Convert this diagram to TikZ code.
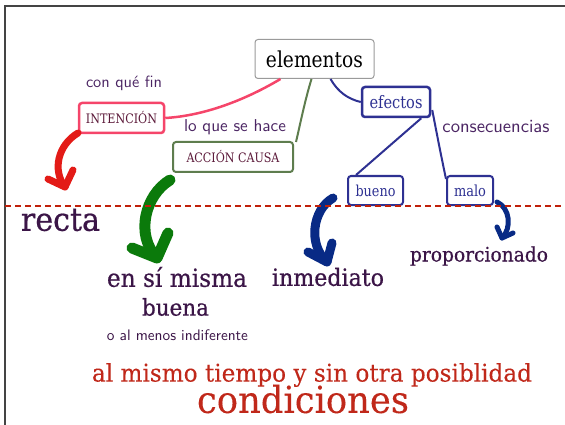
\documentclass[tikz,border=0pt]{standalone}
\usepackage{fontspec}
\usepackage{graphicx}
\newfontfamily\slab{DejaVu Serif}[FakeStretch=0.93, FakeBold=0.6]
\newfontfamily\slabbox{DejaVu Serif}[FakeStretch=0.85]
\newfontfamily\slablight{DejaVu Serif}[FakeStretch=0.95, FakeBold=0.2]
\usetikzlibrary{calc}
\definecolor{pinkc}{HTML}{F5456A}
\definecolor{greenc}{HTML}{5E7D4E}
\definecolor{bluec}{HTML}{2E3192}
\definecolor{arrred}{HTML}{E31B17}
\definecolor{arrgreen}{HTML}{0B7A0B}
\definecolor{arrnavy}{HTML}{082A85}
\definecolor{dashred}{HTML}{C0200A}
\definecolor{txtpurple}{HTML}{3B1547}
\definecolor{handpurple}{HTML}{4B2563}
\definecolor{boxtxt}{HTML}{5C1A3A}
\definecolor{redtxt}{HTML}{C0281A}
\definecolor{grayc}{HTML}{9A9A9A}
\definecolor{framec}{HTML}{444444}
\newcommand\fw[2]{\resizebox{#1pt}{!}{#2}}
\tikzset{
  box/.style={draw, rounded corners=3pt, fill=white, inner sep=0pt, minimum height=30pt},
  lbl/.style={inner sep=0pt, text=handpurple, font=\sffamily},
  big/.style={inner sep=0pt, text=txtpurple, font=\slab},
  conn/.style={line width=2pt},
  bigarrow/.style={line cap=round, line join=round},
}
\begin{document}
\begin{tikzpicture}[x=1pt,y=-1pt]
\useasboundingbox (0,0) rectangle (565,425);
% frame
\draw[framec, line width=2pt] (5,425) -- (5,6) -- (565,6);

% boxes
\node[box, draw=grayc, line width=1pt, minimum width=119pt, minimum height=39pt] (elem) at (314.5,59)
  {\fw{97}{\slabbox elementos}};
\node[box, draw=bluec, line width=2.5pt, minimum width=68pt] (efec) at (396,102)
  {\color{bluec}\fw{53}{\slabbox efectos}};
\node[box, draw=pinkc, line width=2.5pt, minimum width=85pt] (inte) at (121.5,118)
  {\color{boxtxt}\fw{71}{\slabbox INTENCIÓN}};
\node[box, draw=greenc, line width=2pt, minimum width=120pt] (acc) at (233,157)
  {\color{boxtxt}\fw{93}{\slabbox ACCIÓN CAUSA}};
\node[box, draw=bluec, line width=2pt, minimum width=55pt, minimum height=29pt] (bue) at (375.5,190.5)
  {\color{bluec}\fw{40}{\slabbox bueno}};
\node[box, draw=bluec, line width=2pt, minimum width=46pt, minimum height=29pt] (mal) at (470,190.5)
  {\color{bluec}\fw{32}{\slabbox malo}};

% connectors
\draw[conn, pinkc, line width=2.5pt] ($(elem.south west)+(26,0)$) .. controls (240,103) and (200,116) .. (inte.east);
\draw[conn, greenc] ($(elem.south west)+(57,0)$) .. controls (305,100) and (300,125) .. ($(acc.north east)+(2,1)$);
\draw[conn, bluec] ($(elem.south west)+(76,0)$) .. controls (338,92) and (348,99) .. (efec.west);
\draw[conn, bluec] ($(efec.south east)+(-10,0)$) -- ($(bue.north west)+(9,0)$);
\draw[conn, bluec] ($(efec.east)+(1,8)$) .. controls (437,135) and (442,160) .. ($(mal.north west)+(0,4)$);

% labels
\node[lbl] (l1) at (124,83) {\fw{76}{con qué fin}};
\node[lbl] (l2) at (235,127) {\fw{102}{lo que se hace}};
\node[lbl] (l3) at (496,127) {\fw{107}{consecuencias}};

% texts
\node[big] (recta) at (60.5,220) {\fw{79}{recta}};
\node[big] (ensi) at (177,277) {\fw{140}{en sí misma}};
\node[big] (buena) at (175.5,307) {\fw{67}{buena}};
\node[lbl, text=txtpurple] (oal) at (177.5,335) {\fw{141}{o al menos indiferente}};
\node[big] (inme) at (328,277) {\fw{112}{inmediato}};
\node[big] (prop) at (479,256) {\fw{138}{proporcionado}};
\node[big, text=redtxt, font=\slablight] (almis) at (312,375) {\fw{440}{al mismo tiempo y sin otra posiblidad}};
\node[big, text=redtxt, font=\slablight] (cond) at (303,399) {\fw{212}{condiciones}};

% big curved arrows
\coordinate (ra) at (78,133); \coordinate (rt) at (65,187);
\draw[bigarrow, arrred, line width=7pt] (ra) .. controls (58,145) and (52,170) .. (rt);
\draw[bigarrow, arrred, line width=7pt] (48,179) -- (rt) -- (73,170);
\coordinate (ga) at (170,180); \coordinate (gt) at (157,258);
\draw[bigarrow, arrgreen, line width=11pt] (ga) .. controls (145,195) and (135,235) .. (gt);
\draw[bigarrow, arrgreen, line width=11pt] (132,248) -- (gt) -- (168,233);
\coordinate (na) at (333,198); \coordinate (nt) at (327,262);
\draw[bigarrow, arrnavy, line width=9pt] (na) .. controls (312,210) and (308,245) .. (nt);
\draw[bigarrow, arrnavy, line width=9pt] (308,252) -- (nt) -- (332,243);
\coordinate (ma) at (497,202); \coordinate (mt) at (502,238);
\draw[bigarrow, arrnavy, line width=5pt] (ma) .. controls (510,208) and (512,228) .. (mt);
\draw[bigarrow, arrnavy, line width=5pt] (497,227) -- (mt) -- (513,233);

% dashed line
\draw[dashred, line width=2pt, dash pattern=on 6pt off 4pt] (5,206) -- (565,206);
\end{tikzpicture}
\end{document}
